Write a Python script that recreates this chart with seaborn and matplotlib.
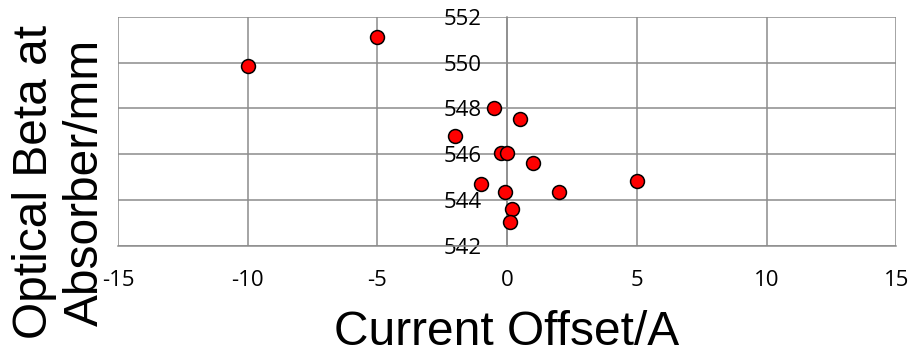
import matplotlib
matplotlib.use("Agg")
import matplotlib.pyplot as plt
import seaborn as sns
import pandas as pd

current_offset = [-10, -5, -2, -0.5, 0.5, -0.25, 0, 1, -1, -0.1, 2, 5, 0.2, 0.1]
optical_beta = [549.86, 551.1, 546.78, 548.0, 547.55, 546.05, 546.05, 545.6, 544.7, 544.37, 544.37, 544.82, 543.6, 543.03]
x_ticks = [-15, -10, -5, 0, 5, 10, 15]
y_ticks = [542, 544, 546, 548, 550, 552]

df = pd.DataFrame({"x": current_offset, "y": optical_beta})

sns.set_style("white")
plt.rcParams['font.family'] = ['Liberation Sans', 'DejaVu Sans']
plt.rcParams['text.color'] = 'black'
plt.rcParams['xtick.color'] = 'black'
plt.rcParams['ytick.color'] = 'black'
plt.rcParams['axes.unicode_minus'] = False

fig = plt.figure(figsize=(9.08, 3.54), dpi=100)
ax = fig.add_axes([0.130, 0.305, 0.857, 0.648])

sns.scatterplot(data=df, x="x", y="y", ax=ax, s=100, color="#ff0000",
                edgecolor="black", linewidth=1.1, zorder=5, clip_on=False)

ax.set_xlim(-15, 15)
ax.set_ylim(542, 552)
ax.set_xticks(x_ticks)
ax.set_yticks(y_ticks)
ax.grid(True, color="#8c8c8c", linewidth=1.1)
ax.set_axisbelow(True)

for s in ["top", "right"]:
    ax.spines[s].set_visible(False)
ax.spines["left"].set_position(("data", 0))
ax.spines["left"].set_color("#8c8c8c")
ax.spines["left"].set_linewidth(1.1)
ax.spines["bottom"].set_color("#8c8c8c")
ax.spines["bottom"].set_linewidth(1.1)

ax.tick_params(axis="x", direction="out", length=6, width=1.1, color="#8c8c8c",
               labelcolor="black", pad=11)
ax.tick_params(axis="y", length=0, pad=18.5, labelcolor="black")
for lab in ax.get_xticklabels() + ax.get_yticklabels():
    lab.set_fontfamily(["Open Sans", "DejaVu Sans"])
    lab.set_fontsize(16)

ax.set_xlabel("")
ax.set_ylabel("")
fig.text(0.558, 0.025, "Current Offset/A", ha="center", va="baseline", fontsize=34.5, color="black")
fig.text(0.066, 0.486, "Optical Beta at\nAbsorber/mm", ha="center", va="center",
         rotation=90, fontsize=34.5, linespacing=1.15, color="black")

fig.savefig("out.png", dpi=100)
